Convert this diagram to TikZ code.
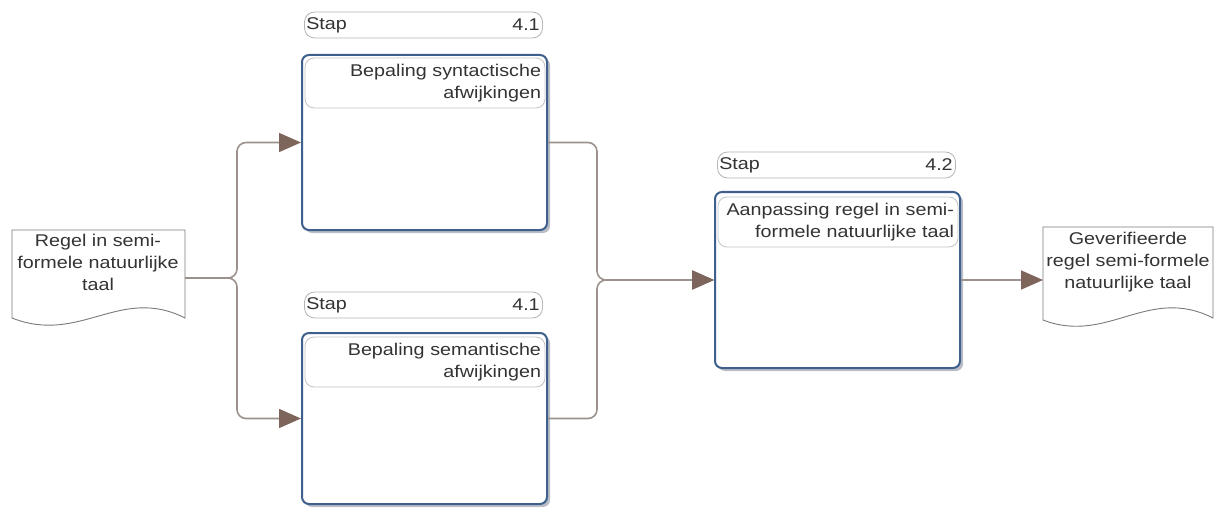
\documentclass[tikz,border=0pt]{standalone}
\usepackage{fontspec}
\setmainfont{Liberation Sans}[FakeStretch=1.16]
\usetikzlibrary{arrows.meta,shadows}
\definecolor{boxblue}{HTML}{3F5F8C}
\definecolor{shade}{HTML}{B9BEC6}
\definecolor{wire}{HTML}{9C918C}
\definecolor{tipbrown}{HTML}{7D655C}
\definecolor{ink}{HTML}{333333}
\definecolor{pale}{HTML}{B4B4B4}
\definecolor{docline}{HTML}{7A7A7A}
\tikzset{
  txt/.style={font=\fontsize{17}{22}\selectfont, text=ink},
  stepbox/.style={draw=boxblue, line width=2pt, rounded corners=7pt, fill=white,
    minimum width=245pt, drop shadow={shadow xshift=3pt, shadow yshift=-3pt, fill=shade, opacity=1}},
  stapbox/.style={draw=pale, line width=0.8pt, rounded corners=10pt, fill=white,
    minimum width=238pt, minimum height=26pt},
  titlebox/.style={draw=pale!80, line width=0.8pt, rounded corners=9pt, fill=white,
    minimum width=240pt, minimum height=50pt, txt, text width=232pt, align=right, inner sep=3pt},
  doc/.style={draw=docline, line width=0.9pt, fill=white},
  conn/.style={draw=wire, line width=1.6pt, rounded corners=9pt,
    -{Triangle[length=22pt,width=19pt,color=tipbrown]}},
}
\begin{document}
\begin{tikzpicture}[x=1pt,y=-1pt]
\useasboundingbox (0,0) rectangle (1216,508);

% input document
\draw[doc] (12,230) -- (185,230) -- (185,318)
  .. controls (120,285) and (80,345) .. (12,318) -- cycle;
\node[txt, align=center] (doc1) at (98,262) {Regel in semi-\\formele natuurlijke\\taal};
\coordinate (d1) at (185,278);
\coordinate (s) at (237,278);

% output document
\draw[doc] (1043,227) -- (1213,227) -- (1213,318)
  .. controls (1148,285) and (1108,345) .. (1043,320) -- cycle;
\node[txt, align=center] (doc2) at (1128,262) {Geverifieerde\\regel semi-formele\\natuurlijke taal};
\coordinate (d2) at (1043,280);

% step 4.1 (syntax)
\node[stapbox] (st1) at (423.5,25) {};
\node[txt, anchor=west, inner sep=2pt] (st1a) at (st1.west) {Stap};
\node[txt, anchor=east, inner sep=3pt] (st1b) at (st1.east) {4.1};
\node[stepbox, minimum height=175pt] (box1) at (424.5,142.5) {};
\node[titlebox] (t1) at (425,83) {Bepaling syntactische\\afwijkingen};

% step 4.1 (semantics)
\node[stapbox] (st2) at (423.5,305) {};
\node[txt, anchor=west, inner sep=2pt] (st2a) at (st2.west) {Stap};
\node[txt, anchor=east, inner sep=3pt] (st2b) at (st2.east) {4.1};
\node[stepbox, minimum height=171pt] (box2) at (424.5,418.5) {};
\node[titlebox] (t2) at (425,362) {Bepaling semantische\\afwijkingen};

% step 4.2
\node[stapbox] (st3) at (836.5,165) {};
\node[txt, anchor=west, inner sep=2pt] (st3a) at (st3.west) {Stap};
\node[txt, anchor=east, inner sep=3pt] (st3b) at (st3.east) {4.2};
\node[stepbox, minimum height=176pt] (box3) at (837.5,280) {};
\node[titlebox] (t3) at (838,222) {Aanpassing regel in semi-\\formele natuurlijke taal};

% connectors
\coordinate (m) at (597,280);
\draw[conn] (d1) -- (s) |- (box1.west);
\draw[conn] (d1) -- (s) |- (box2.west);
\draw[conn] (box1.east) -| (m) -- (box3.west);
\draw[conn] (box2.east) -| (m) -- (box3.west);
\draw[conn, rounded corners=0pt] (box3.east |- d2) -- (d2);
\end{tikzpicture}
\end{document}
